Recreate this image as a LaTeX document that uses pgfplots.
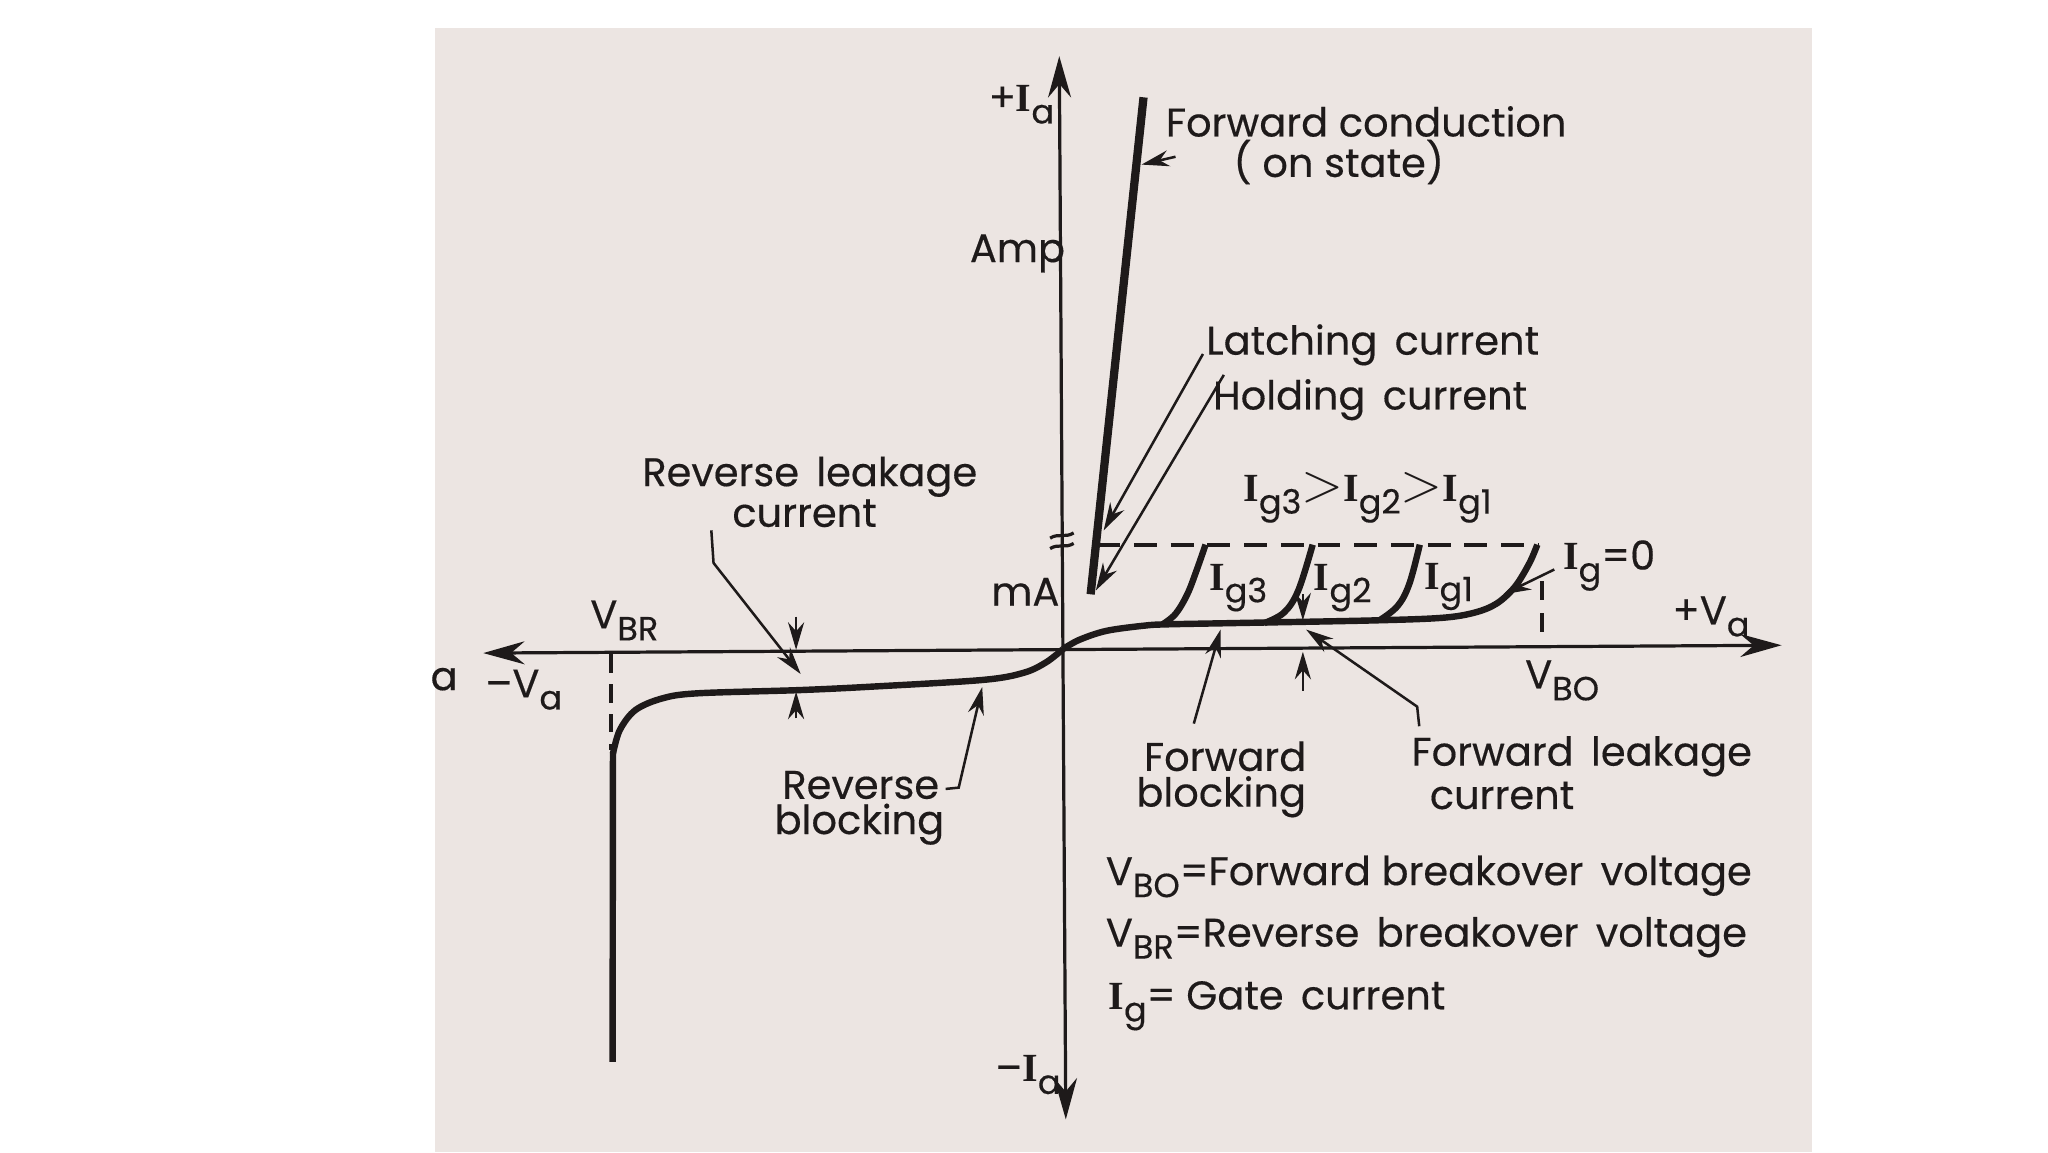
\documentclass[border=0pt]{standalone}
\usepackage{pgfplots}
\pgfplotsset{compat=1.18}
\usepackage{fontspec}
\setmainfont{Poppins}[FakeBold=0.35]
\newfontfamily\serifI{Liberation Serif}
\usetikzlibrary{arrows.meta}
\definecolor{paper}{RGB}{236,229,226}
\definecolor{ink}{RGB}{30,26,26}
\newcommand{\Ib}{{\serifI\bfseries I}}
\newcommand{\sub}[1]{\raisebox{-0.55ex}{\fontsize{7.3}{8}\selectfont #1}}
\newcommand{\gt}{{\fontsize{12}{12}\selectfont$>$}}
\tikzset{
  lbl/.style={font=\fontsize{8.7}{10}\selectfont, text=ink, inner sep=0pt},
  ann/.style={draw=ink, line width=0.55pt, -{Stealth[length=6pt,width=3.5pt]}},
  axarrow/.style={draw=ink, line width=0.7pt, {Stealth[length=9pt,width=5pt]}-{Stealth[length=9pt,width=5pt]}},
}
\begin{document}
\begin{tikzpicture}
\begin{axis}[
  scale only axis, width=156.8mm, height=88.2mm,
  xmin=0, xmax=1568, ymin=0, ymax=882, y dir=reverse,
  hide axis, clip=false,
  axis background/.style={fill=white},
]
% paper
\fill[paper] (333,21.5) rectangle (1387,882);

% axes
\draw[axarrow] (816,857) -- (811,43);
\draw[axarrow] (370,500) -- (1364,494);

% forward blocking (Ig = 0)
\addplot[ink, line width=1.4pt, smooth, tension=0.55] coordinates {
 (813.8,497) (826,490) (847,483) (876,479) (893,478) (946,477) (1051,475)
 (1104,473) (1129,469) (1146,462) (1160,449) (1171,431) (1177,417)};
% gate curves
\addplot[ink, line width=1.4pt, smooth, tension=0.6] coordinates {
 (890,478) (900,470) (909,455) (916,437) (923,417)};
\addplot[ink, line width=1.4pt, smooth, tension=0.6] coordinates {
 (968,477) (983,469) (994,452) (1005,417)};
\addplot[ink, line width=1.4pt, smooth, tension=0.6] coordinates {
 (1056,475) (1070,464) (1079,447) (1087,417)};
% on-state
\addplot[ink, line width=1.8pt] coordinates {(875.5,74.5) (835,455)};
% reverse characteristic
\addplot[ink, line width=1.4pt, smooth, tension=0.55] coordinates {
 (813.8,497) (801,507) (784,515) (753,520.5) (671,525.5) (613,528.3)
 (534,530.8) (507,534.7) (486.5,543.6) (474.5,559) (469.3,577)};
\addplot[ink, line width=1.4pt] coordinates {(469.3,576) (469,813)};

% dashed guides
\addplot[ink, line width=0.8pt, dash pattern=on 5pt off 3pt] coordinates {(840,417) (1178,417)};
\addplot[ink, line width=0.8pt, dash pattern=on 4pt off 3pt] coordinates {(1180.5,445) (1180.5,495)};
\addplot[ink, line width=0.8pt, dash pattern=on 4pt off 2.5pt] coordinates {(467.8,501) (467.8,574)};

% break mark on the I axis
\draw[ink, line width=0.7pt] (804,412) .. controls (810,408) and (816,412) .. (822,408);
\draw[ink, line width=0.7pt] (804,420) .. controls (810,416) and (816,420) .. (822,416);

% annotation arrows
\draw[ann] (900,120) -- (874,126);
\draw[ann] (921,271) -- (845,406);
\draw[ann] (937,287) -- (839,452);
\draw[ann] (1190,436) -- (1151,455);
\draw[ann] (914,554) -- (934.5,482);
\draw[ann] (997.5,455) -- (997.5,475);
\draw[ann] (997.5,529) -- (997.5,499);
\draw[ann] (1086.6,556) -- (1085,541) -- (1000,482);
\draw[ann] (609.5,472) -- (609.5,497.5);
\draw[ann] (609.5,550) -- (609.5,529.5);
\draw[ann] (544.6,406) -- (546.3,431) -- (613,516);
\draw[ann] (724,604) -- (734,603) -- (752,526);

% labels
\node[lbl] at (782,80) {+\Ib\sub{a}};
\node[lbl] at (779,194) {Amp};
\node[lbl] at (785,453) {mA};
\node[lbl] at (787,823) {--\Ib\sub{a}};
\node[lbl] at (1046,93) {Forward conduction};
\node[lbl] at (1025,124) {( on state)};
\node[lbl] at (1051,264) {Latching\, current};
\node[lbl] at (1049,306) {Holding\, current};
\node[lbl] at (1047,381) {\Ib\sub{g3}\gt\Ib\sub{g2}\gt\Ib\sub{g1}};
\node[lbl] at (948,450) {\Ib\sub{g3}};
\node[lbl] at (1028,450) {\Ib\sub{g2}};
\node[lbl] at (1109,449) {\Ib\sub{g1}};
\node[lbl] at (1232,433) {\Ib\sub{g}=0};
\node[lbl] at (1310,472) {+V\sub{a}};
\node[lbl] at (1196,521) {V\sub{BO}};
\node[lbl] at (938,579) {Forward};
\node[lbl] at (935,610) {blocking};
\node[lbl] at (1211,579) {Forward\, leakage};
\node[lbl] at (1150,609) {current};
\node[lbl] at (620,365) {Reverse\, leakage};
\node[lbl] at (616,393) {current};
\node[lbl] at (478,475) {V\sub{BR}};
\node[lbl] at (401,528) {--V\sub{a}};
\node[lbl] at (340,520) {a};
\node[lbl] at (659,601) {Reverse};
\node[lbl] at (658,631) {blocking};
\node[lbl, anchor=west] at (846,671) {V\sub{BO}=Forward breakover\, voltage};
\node[lbl, anchor=west] at (846,718) {V\sub{BR}=Reverse\, breakover\, voltage};
\node[lbl, anchor=west] at (848,770) {\Ib\sub{g}= Gate\, current};
\end{axis}
\end{tikzpicture}
\end{document}
